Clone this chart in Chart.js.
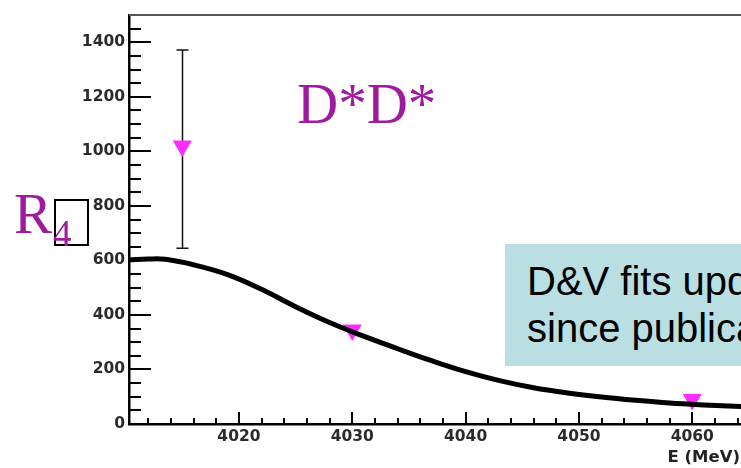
<!DOCTYPE html>
<html>
<head>
<meta charset="utf-8">
<title>R4 D*D*</title>
<script src="https://cdn.jsdelivr.net/npm/chart.js@4.4.1/dist/chart.umd.min.js"></script>
<style>
  html, body { margin: 0; padding: 0; background: #fff; }
  #wrap { position: relative; width: 741px; height: 468px; overflow: hidden; }
  #chart { position: absolute; left: 0; top: 0; }
  .note { position: absolute; white-space: nowrap; line-height: 1; }
  .serif { font-family: "Liberation Serif", "Times New Roman", serif; color: #9e1b9e; }
  .sans { font-family: "Liberation Sans", Arial, sans-serif; color: #000; }
  #box4 { position: absolute; left: 54px; top: 199px; width: 31px; height: 43px; border: 2px solid #000; }
  #panel { position: absolute; left: 505px; top: 244px; width: 300px; height: 122px; background: #b9dfe3; }
  #xtitle { position: absolute; right: 1px; top: 449px; line-height: 1; white-space: nowrap;
            font-family: "DejaVu Sans", sans-serif; font-weight: bold; font-size: 16.5px; color: #222; }
</style>
</head>
<body>
<div id="wrap">
  <canvas id="chart" width="741" height="468"></canvas>
  <div class="note serif" style="left:297px; top:75px; font-size:57px;">D*D*</div>
  <div id="box4"></div>
  <div class="note serif" style="left:14px; top:185px; font-size:57px;">R</div>
  <div class="note serif" style="left:53px; top:215px; font-size:37px;">4</div>
  <div id="panel"></div>
  <div class="note sans" style="left:527px; top:261px; font-size:40px;">D&amp;V fits updated</div>
  <div class="note sans" style="left:527px; top:308px; font-size:40px;">since publication</div>
  <div id="xtitle">E (MeV)</div>
</div>
<script>
"use strict";

// axis ranges and tick labels
const xMin = 4010.3;
const xMax = 4064.3;
const yMin = 0;
const yMax = 1500;
const xMajorTicks = [4020, 4030, 4040, 4050, 4060];
const yMajorTicks = [0, 200, 400, 600, 800, 1000, 1200, 1400];
const xMinorStep = 2;
const yMinorStep = 50;

// fitted curve
const fitE = [4010.3, 4012, 4013.5, 4016, 4019, 4022, 4025, 4028, 4031, 4034, 4037, 4040, 4043, 4046, 4049, 4052, 4055, 4058, 4061, 4064.3];
const fitR = [602, 605, 604, 584, 548, 494, 430, 372, 322, 276, 232, 192, 159, 133, 114, 99, 87, 77, 70, 64];

// measured points
const measE = [4015, 4023, 4030, 4060];
const measR = [1020, 1575, 345, 90];
const errLow = [645, null, null, null];
const errHigh = [1372, null, null, null];

const tickFont = { family: "\"DejaVu Sans\", sans-serif", size: 15.5, weight: "bold" };

function drawInnerTicks(chart) {
  const { ctx, chartArea: a, scales } = chart;
  const x = scales.x;
  const y = scales.y;
  ctx.save();
  ctx.strokeStyle = "#000";
  ctx.lineWidth = 2;
  ctx.beginPath();
  for (let v = yMin; v <= yMax; v += yMinorStep) {
    const py = Math.round(y.getPixelForValue(v));
    const len = v % 200 === 0 ? 22 : 12;
    ctx.moveTo(a.left, py);
    ctx.lineTo(a.left + len, py);
  }
  for (let v = Math.ceil(xMin / xMinorStep) * xMinorStep; v <= xMax; v += xMinorStep) {
    const px = Math.round(x.getPixelForValue(v));
    const len = v % 10 === 0 ? 12 : 6;
    ctx.moveTo(px, a.bottom);
    ctx.lineTo(px, a.bottom - len);
  }
  ctx.stroke();

  // top of the frame
  ctx.strokeStyle = "#555";
  ctx.lineWidth = 2;
  ctx.beginPath();
  ctx.moveTo(a.left, a.top);
  ctx.lineTo(a.right, a.top);
  ctx.stroke();
  ctx.restore();
}

const rootFrame = {
  id: "rootFrame",
  beforeDatasetsDraw(chart) {
    const { ctx, scales } = chart;
    const x = scales.x;
    const y = scales.y;
    ctx.save();
    ctx.strokeStyle = "#111";
    ctx.lineWidth = 1.5;
    ctx.beginPath();
    measE.forEach((e, i) => {
      if (errLow[i] == null) return;
      const px = Math.round(x.getPixelForValue(e)) + 0.5;
      const lo = y.getPixelForValue(errLow[i]);
      const hi = y.getPixelForValue(errHigh[i]);
      ctx.moveTo(px, lo);
      ctx.lineTo(px, hi);
      ctx.moveTo(px - 6, lo);
      ctx.lineTo(px + 6, lo);
      ctx.moveTo(px - 6, hi);
      ctx.lineTo(px + 6, hi);
    });
    ctx.stroke();
    ctx.restore();
  },
  afterDraw(chart) {
    drawInnerTicks(chart);
  }
};

new Chart(document.getElementById("chart"), {
  type: "scatter",
  data: {
    datasets: [
      {
        label: "fit",
        data: fitE.map((e, i) => ({ x: e, y: fitR[i] })),
        showLine: true,
        borderColor: "#000",
        borderWidth: 5,
        borderCapStyle: "round",
        pointRadius: 0,
        tension: 0.4
      },
      {
        label: "R4",
        data: measE.map((e, i) => ({ x: e, y: measR[i] })),
        showLine: false,
        pointStyle: "triangle",
        rotation: 180,
        pointRadius: 11,
        pointBackgroundColor: "#ff2cff",
        pointBorderWidth: 0,
        clip: false
      }
    ]
  },
  options: {
    responsive: false,
    animation: false,
    layout: { autoPadding: false, padding: { top: 15, right: 0, left: 0, bottom: 0 } },
    plugins: { legend: { display: false }, tooltip: { enabled: false } },
    scales: {
      x: {
        type: "linear",
        min: xMin,
        max: xMax,
        afterBuildTicks: scale => { scale.ticks = xMajorTicks.map(v => ({ value: v })); },
        afterFit: scale => { scale.height = 44; },
        grid: { display: false, drawTicks: false },
        border: { display: true, color: "#000", width: 2.5 },
        ticks: { autoSkip: false, maxRotation: 0, padding: 4, color: "#2b2b2b", font: tickFont, callback: v => String(v) }
      },
      y: {
        type: "linear",
        min: yMin,
        max: yMax,
        afterBuildTicks: scale => { scale.ticks = yMajorTicks.map(v => ({ value: v })); },
        afterFit: scale => { scale.width = 129; },
        grid: { display: false, drawTicks: false },
        border: { display: true, color: "#000", width: 2.5 },
        ticks: { autoSkip: false, padding: 4, color: "#2b2b2b", font: tickFont, callback: v => String(v) }
      }
    }
  },
  plugins: [rootFrame]
});
</script>
</body>
</html>
